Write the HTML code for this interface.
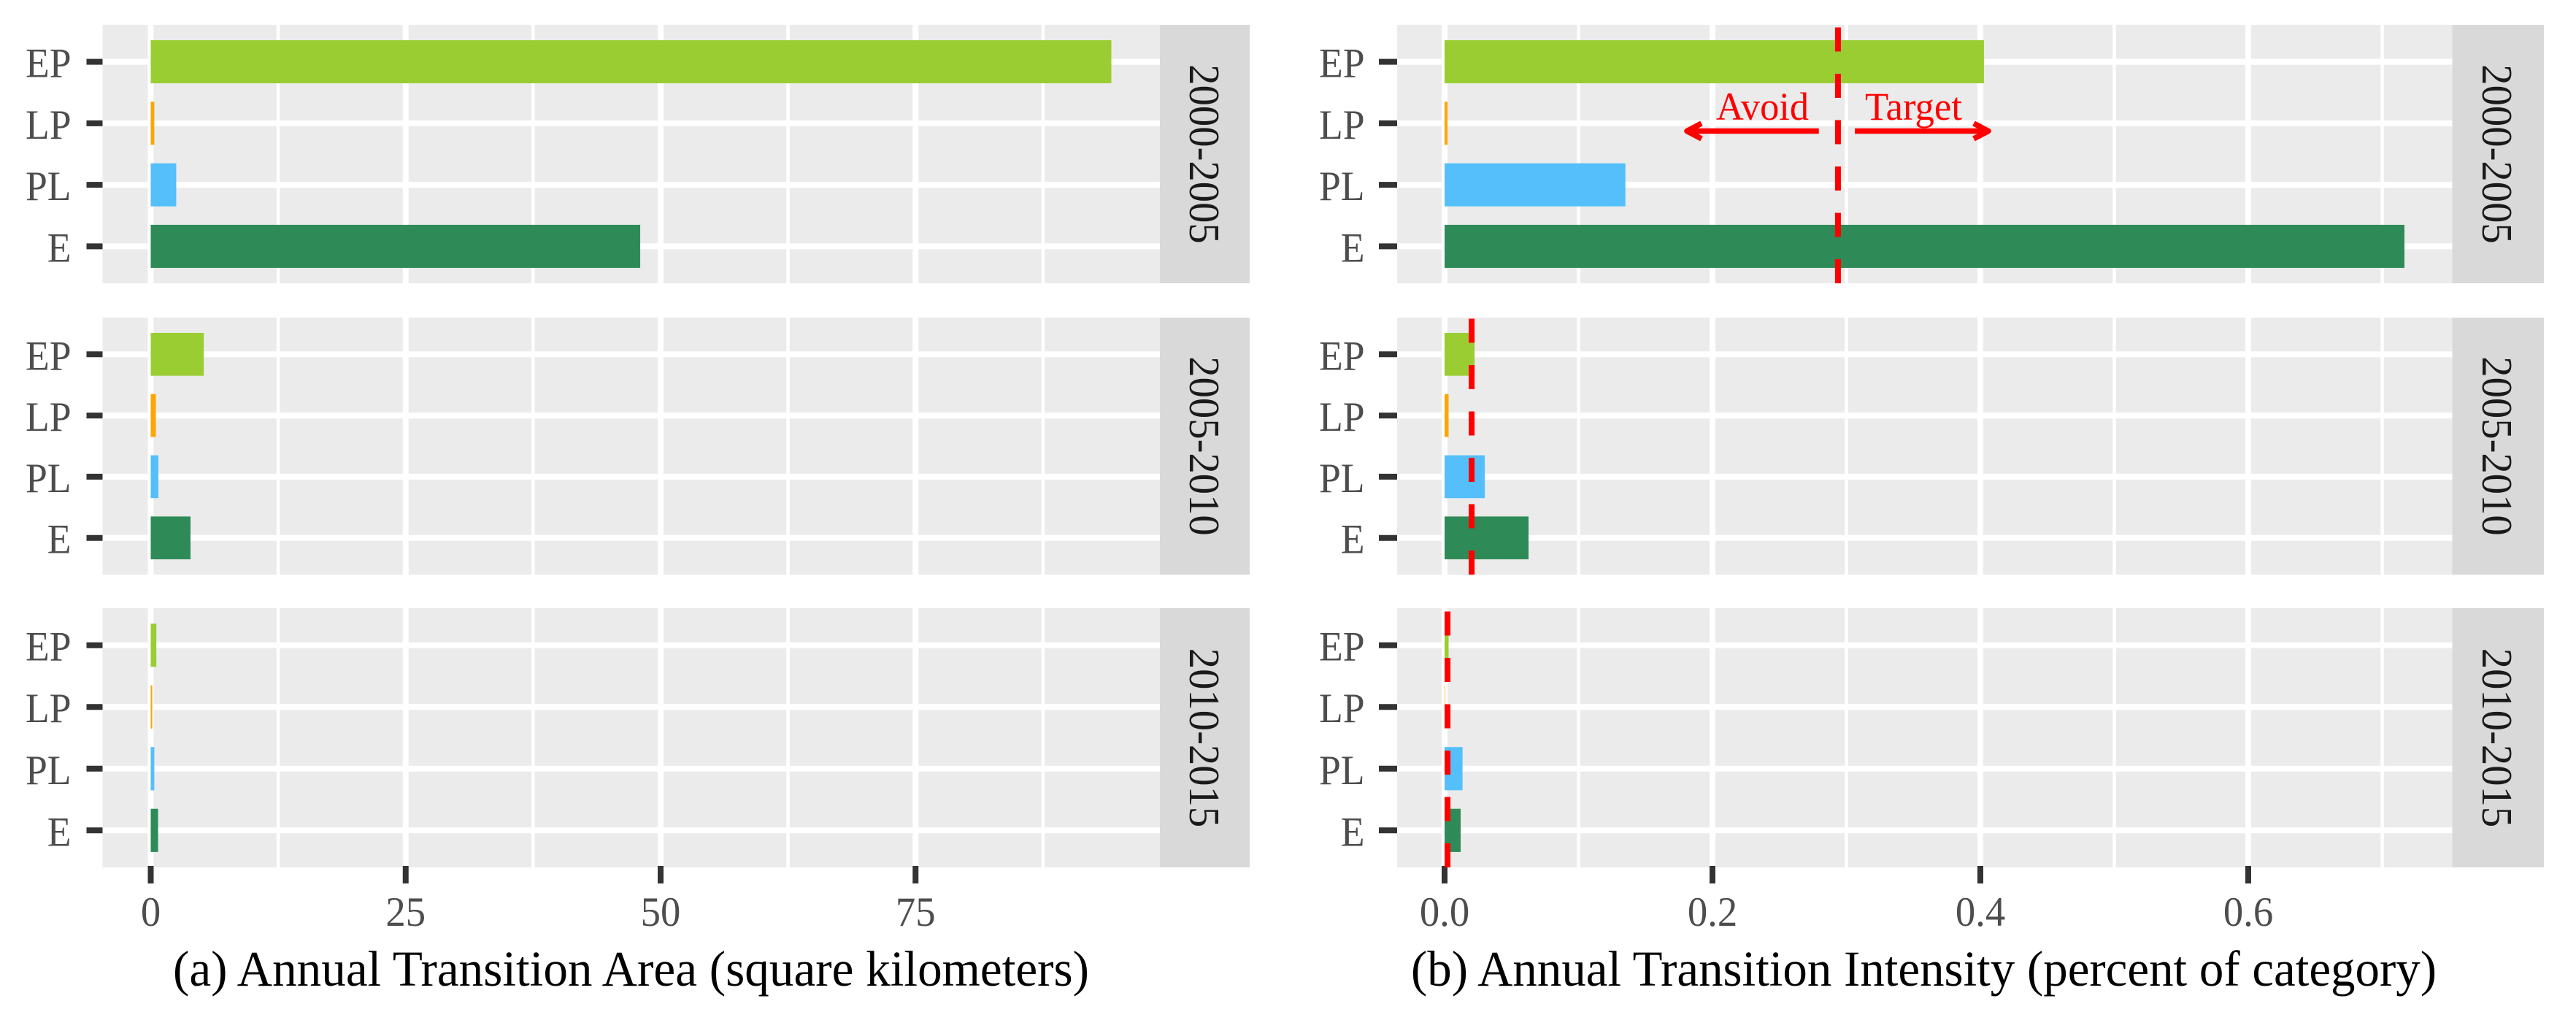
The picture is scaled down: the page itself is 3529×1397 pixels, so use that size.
<!DOCTYPE html>
<html lang="en">
<head>
<meta charset="utf-8">
<title>Annual Transition Area and Intensity</title>
<style>
html,body{margin:0;padding:0;background:#fff;}
svg{display:block;}
text{font-family:"Liberation Serif","Times New Roman",serif;}
</style>
</head>
<body>
<svg id="chart" xmlns="http://www.w3.org/2000/svg" width="3529" height="1397" viewBox="0 0 3529 1397">
  <rect x="0" y="0" width="3529" height="1397" fill="#ffffff"></rect>
  <g id="panels-a"></g>
  <g id="panels-b"></g>
  <text x="237" y="1350" font-size="69" fill="#000000" textLength="1255" lengthAdjust="spacingAndGlyphs">(a) Annual Transition Area (square kilometers)</text>
  <text x="1933" y="1350" font-size="69" fill="#000000" textLength="1405" lengthAdjust="spacingAndGlyphs">(b) Annual Transition Intensity (percent of category)</text>
</svg>
<script>
const categories = ['EP', 'LP', 'PL', 'E'];
const periods = ['2000-2005', '2005-2010', '2010-2015'];
const barColors = ['#9ACD32', '#FFA500', '#54BFFB', '#2E8B57'];

const areaValues2000 = [94.2, 0.35, 2.5, 48.0];
const areaValues2005 = [5.2, 0.5, 0.75, 3.9];
const areaValues2010 = [0.55, 0.15, 0.35, 0.72];

const intensityValues2000 = [0.4027, 0.0022, 0.135, 0.7166];
const intensityValues2005 = [0.0224, 0.003, 0.030, 0.0627];
const intensityValues2010 = [0.003, 0.0004, 0.0134, 0.012];
const intensityThresholds = [0.2937, 0.0202, 0.0022];

const areaTicks = [0, 25, 50, 75];
const areaTickLabels = ['0', '25', '50', '75'];
const areaMinorTicks = [12.5, 37.5, 62.5, 87.5];
const intensityTicks = [0, 0.2, 0.4, 0.6];
const intensityTickLabels = ['0.0', '0.2', '0.4', '0.6'];
const intensityMinorTicks = [0.1, 0.3, 0.5, 0.7];

const avoidArrowRange = [0.2794, 0.1782];
const targetArrowRange = [0.3063, 0.4087];

const NS = 'http://www.w3.org/2000/svg';
const panelTops = [34, 435, 833];
const panelBottoms = [388, 787, 1188];

function xArea(v) { return 206.5 + v * 13.97; }
function xIntensity(v) { return 1979 + v * 1835; }
function bandY(p, i) {
  const step = (panelBottoms[p] - panelTops[p]) / 4.2;
  return panelTops[p] + step * (0.6 + i);
}
function bandH(p) { return (panelBottoms[p] - panelTops[p]) / 4.2 * 0.7; }

function make(parent, tag) {
  const el = document.createElementNS(NS, tag);
  parent.appendChild(el);
  return el;
}
function rect(el, x, y, w, h, fill) {
  el.setAttribute('x', x);
  el.setAttribute('y', y);
  el.setAttribute('width', w);
  el.setAttribute('height', h);
  el.setAttribute('fill', fill);
}
function line(el, x1, y1, x2, y2, stroke, width) {
  el.setAttribute('x1', x1);
  el.setAttribute('y1', y1);
  el.setAttribute('x2', x2);
  el.setAttribute('y2', y2);
  el.setAttribute('stroke', stroke);
  el.setAttribute('stroke-width', width);
}

function drawFacets(root, cfg) {
  periods.forEach(function (period, p) {
    const top = panelTops[p];
    const bottom = panelBottoms[p];

    const bg = make(root, 'rect');
    
    
    rect(bg, cfg.left, top, cfg.right - cfg.left, bottom - top, '#EBEBEB');

    cfg.minor.forEach(function (v) {
      const g = make(root, 'line');
      
      
      line(g, cfg.x(v), top, cfg.x(v), bottom, '#ffffff', 4.5);
    });
    cfg.ticks.forEach(function (v) {
      const g = make(root, 'line');
      
      
      line(g, cfg.x(v), top, cfg.x(v), bottom, '#ffffff', 8);
    });

    categories.forEach(function (cat, i) {
      const y = bandY(p, i);

      const g = make(root, 'line');
      
      
      line(g, cfg.left, y, cfg.right, y, '#ffffff', 8);

      const tick = make(root, 'line');
      
      
      line(tick, cfg.left - cfg.tickLen, y, cfg.left, y, '#333333', 8);

      const lab = make(root, 'text');
      
      
      lab.setAttribute('transform', 'translate(' + cfg.labelRight + ' ' + (y + 21) + ') scale(0.94 1)');
      lab.setAttribute('font-size', 57);
      lab.setAttribute('fill', '#4D4D4D');
      lab.setAttribute('text-anchor', 'end');
      lab.textContent = cat;
    });

    cfg.values[p].forEach(function (v, i) {
      const bar = make(root, 'rect');
      
      
      const h = bandH(p);
      rect(bar, cfg.x(0), bandY(p, i) - h / 2, cfg.x(v) - cfg.x(0), h, barColors[i]);
    });

    const strip = make(root, 'rect');
    
    
    rect(strip, cfg.right, top, cfg.stripRight - cfg.right, bottom - top, '#D9D9D9');

    const stripLabel = make(root, 'text');
    
    
    const cy = (top + bottom) / 2;
    stripLabel.setAttribute('transform', 'translate(' + cfg.stripBaseline + ' ' + cy + ') rotate(90) scale(0.96 1)');
    stripLabel.setAttribute('font-size', 59);
    stripLabel.setAttribute('fill', '#1A1A1A');
    stripLabel.setAttribute('text-anchor', 'middle');
    stripLabel.textContent = period;
  });

  cfg.ticks.forEach(function (v, i) {
    const tick = make(root, 'line');
    
    
    line(tick, cfg.x(v), 1186, cfg.x(v), 1210, '#333333', 8);

    const lab = make(root, 'text');
    
    
    lab.setAttribute('transform', 'translate(' + cfg.x(v) + ' 1268) scale(0.96 1)');
    lab.setAttribute('font-size', 57);
    lab.setAttribute('fill', '#4D4D4D');
    lab.setAttribute('text-anchor', 'middle');
    lab.textContent = cfg.tickLabels[i];
  });
}

const rootA = document.getElementById('panels-a');
const rootB = document.getElementById('panels-b');

drawFacets(rootA, {
  x: xArea, left: 140.5, right: 1589, stripRight: 1712, tickLen: 22, labelRight: 97.5,
  stripBaseline: 1630, ticks: areaTicks, minor: areaMinorTicks, tickLabels: areaTickLabels,
  values: [areaValues2000, areaValues2005, areaValues2010]
});
drawFacets(rootB, {
  x: xIntensity, left: 1914, right: 3359.5, stripRight: 3485, tickLen: 25, labelRight: 1869.5,
  stripBaseline: 3401, ticks: intensityTicks, minor: intensityMinorTicks, tickLabels: intensityTickLabels,
  values: [intensityValues2000, intensityValues2005, intensityValues2010]
});

intensityThresholds.forEach(function (v, p) {
  const dash = make(rootB, 'line');
  
  
  line(dash, xIntensity(v), panelBottoms[p], xIntensity(v), panelTops[p], '#FF0000', 8);
  dash.setAttribute('stroke-dasharray', '33 30.5');
});

function drawArrow(name, range) {
  const y = 179.5;
  const a = xIntensity(range[0]);
  const b = xIntensity(range[1]);
  const dir = b > a ? 1 : -1;
  const tipX = b - dir * 5;

  const shaft = make(rootB, 'line');
  
  
  line(shaft, a, y, tipX, y, '#FF0000', 7.6);

  const head = make(rootB, 'polyline');
  
  
  head.setAttribute('points',
    (tipX - dir * 20) + ',' + (y - 10.5) + ' ' + tipX + ',' + y + ' ' + (tipX - dir * 20) + ',' + (y + 10.5));
  head.setAttribute('fill', 'none');
  head.setAttribute('stroke', '#FF0000');
  head.setAttribute('stroke-width', 7.6);
  head.setAttribute('stroke-linejoin', 'round');
}
drawArrow('avoid', avoidArrowRange);
drawArrow('target', targetArrowRange);

const avoidLabel = make(rootB, 'text');


avoidLabel.setAttribute('x', 2351);
avoidLabel.setAttribute('y', 164);
avoidLabel.setAttribute('font-size', 54);
avoidLabel.setAttribute('fill', '#FF0000');
avoidLabel.setAttribute('textLength', 127);
avoidLabel.setAttribute('lengthAdjust', 'spacingAndGlyphs');
avoidLabel.textContent = 'Avoid';

const targetLabel = make(rootB, 'text');


targetLabel.setAttribute('x', 2555);
targetLabel.setAttribute('y', 164);
targetLabel.setAttribute('font-size', 54);
targetLabel.setAttribute('fill', '#FF0000');
targetLabel.setAttribute('textLength', 133);
targetLabel.setAttribute('lengthAdjust', 'spacingAndGlyphs');
targetLabel.textContent = 'Target';
</script>
</body>
</html>
